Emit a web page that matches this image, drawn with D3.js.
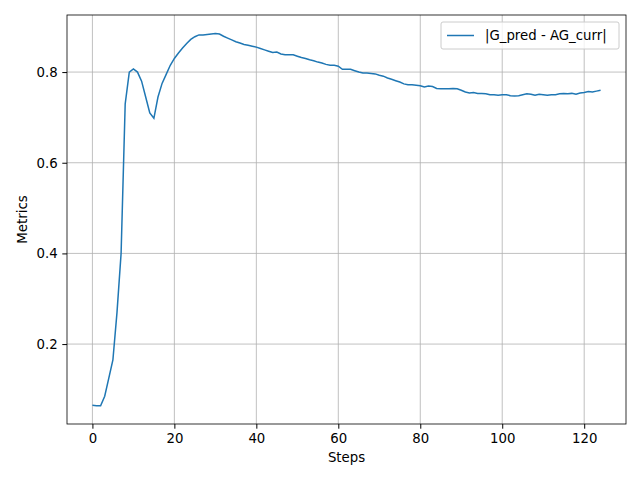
<!DOCTYPE html>
<html><head><meta charset="utf-8">
<script src="https://cdn.jsdelivr.net/npm/d3@7"></script>
<style>body{margin:0;background:#fff}text{font-family:"DejaVu Sans",sans-serif}</style>
</head><body><div id="chart"></div>
<script>
// values, one per step (0..124)
var values = [
  0.065,0.064,0.064,0.085,0.125,0.165,0.27,0.40,0.73,0.80,
  0.807,0.80,0.78,0.745,0.71,0.698,0.745,0.775,0.795,0.815,
  0.83,0.842,0.853,0.863,0.872,0.878,0.882,0.882,0.883,0.884,
  0.885,0.884,0.879,0.875,0.871,0.867,0.864,0.861,0.859,0.857,
  0.855,0.852,0.849,0.846,0.843,0.844,0.840,0.838,0.838,0.838,
  0.835,0.832,0.830,0.827,0.825,0.822,0.820,0.817,0.815,0.815,
  0.813,0.806,0.806,0.806,0.803,0.800,0.798,0.798,0.797,0.796,
  0.793,0.791,0.787,0.784,0.781,0.778,0.774,0.772,0.772,0.771,
  0.770,0.767,0.769,0.768,0.764,0.763,0.763,0.763,0.764,0.763,
  0.760,0.756,0.754,0.755,0.753,0.753,0.752,0.750,0.750,0.749,
  0.750,0.750,0.748,0.747,0.748,0.750,0.752,0.751,0.749,0.751,
  0.750,0.749,0.750,0.750,0.752,0.753,0.752,0.753,0.751,0.754,
  0.755,0.757,0.756,0.758,0.760
];
var xTicks = [0,20,40,60,80,100,120];
var yTicks = [0.2,0.4,0.6,0.8];
var seriesName = "|G_pred - AG_curr|";

var W = 640, H = 480, m = {l:67, r:14, t:15, b:56};
var svg = d3.select("#chart").append("svg").attr("width", W).attr("height", H);
var x = d3.scaleLinear().domain([-6.2, 130.2]).range([m.l, W - m.r]);
var y = d3.scaleLinear().domain([0.0237, 0.9259]).range([H - m.b, m.t]);

var g = svg.append("g");
g.selectAll(".gx").data(xTicks).enter().append("line")
  .attr("x1", d => x(d)).attr("x2", d => x(d)).attr("y1", m.t).attr("y2", H - m.b)
  .attr("stroke", "#b0b0b0").attr("stroke-width", 0.8);
g.selectAll(".gy").data(yTicks).enter().append("line")
  .attr("y1", d => y(d)).attr("y2", d => y(d)).attr("x1", m.l).attr("x2", W - m.r)
  .attr("stroke", "#b0b0b0").attr("stroke-width", 0.8);

var line = d3.line().x((d, i) => x(i)).y(d => y(d));
svg.append("path").datum(values).attr("d", line)
  .attr("fill", "none").attr("stroke", "#1f77b4").attr("stroke-width", 1.5);

svg.append("rect").attr("x", m.l).attr("y", m.t).attr("width", W - m.l - m.r).attr("height", H - m.t - m.b)
  .attr("fill", "none").attr("stroke", "#000").attr("stroke-width", 0.8);

var xa = svg.append("g").attr("transform", "translate(0," + (H - m.b) + ")")
  .call(d3.axisBottom(x).tickValues(xTicks).tickSize(4.7).tickPadding(4.7));
var ya = svg.append("g").attr("transform", "translate(" + m.l + ",0)")
  .call(d3.axisLeft(y).tickValues(yTicks).tickFormat(d3.format(".1f")).tickSize(4.7).tickPadding(4.7));
[xa, ya].forEach(a => { a.select(".domain").remove(); a.selectAll("text").attr("font-size", 13.3).attr("fill", "#000"); });

svg.append("text").attr("x", (m.l + W - m.r) / 2).attr("y", 462).attr("text-anchor", "middle")
  .attr("font-size", 13.3).text("Steps");
svg.append("text").attr("transform", "translate(27," + ((m.t + H - m.b) / 2) + ") rotate(-90)")
  .attr("text-anchor", "middle").attr("font-size", 13.3).text("Metrics");

var lg = svg.append("g").attr("transform", "translate(441,22)");
lg.append("rect").attr("width", 178).attr("height", 27).attr("rx", 2)
  .attr("fill", "#fff").attr("fill-opacity", 0.8).attr("stroke", "#ccc");
lg.append("line").attr("x1", 6).attr("x2", 33).attr("y1", 13.5).attr("y2", 13.5)
  .attr("stroke", "#1f77b4").attr("stroke-width", 1.5);
lg.append("text").attr("x", 44).attr("y", 18).attr("font-size", 13.3).text(seriesName);
</script></body></html>
